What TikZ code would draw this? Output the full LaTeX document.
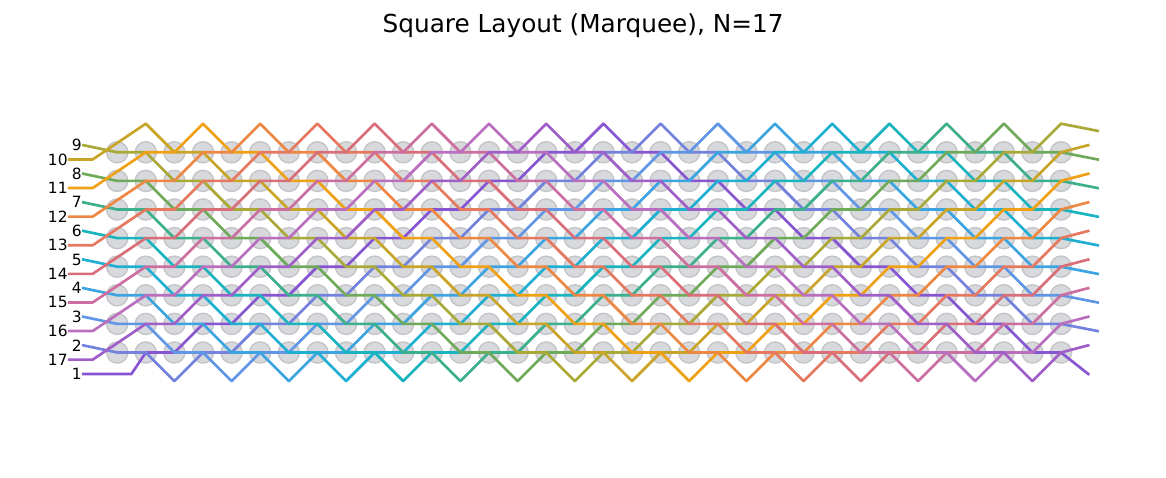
\documentclass[tikz,border=0pt]{standalone}
\usepackage{fontspec}
\setmainfont{DejaVu Sans}
\usepackage{tikz}
\usetikzlibrary{calc}

\definecolor{q1}{HTML}{8755D2}
\definecolor{q2}{HTML}{7382DC}
\definecolor{q3}{HTML}{5F96E6}
\definecolor{q4}{HTML}{3CA5E1}
\definecolor{q5}{HTML}{1EAFD2}
\definecolor{q6}{HTML}{19B4BE}
\definecolor{q7}{HTML}{3CAF8C}
\definecolor{q8}{HTML}{6EAA5A}
\definecolor{q9}{HTML}{A9A938}
\definecolor{q10}{HTML}{C8A528}
\definecolor{q11}{HTML}{F0A014}
\definecolor{q12}{HTML}{EE8741}
\definecolor{q13}{HTML}{E6785F}
\definecolor{q14}{HTML}{DA6E78}
\definecolor{q15}{HTML}{CD6EA0}
\definecolor{q16}{HTML}{B96EBE}
\definecolor{q17}{HTML}{A05FC8}
\definecolor{sitefill}{RGB}{216,217,220}
\definecolor{siteedge}{RGB}{196,197,201}

\begin{document}
\begin{tikzpicture}[x=0.715cm, y=-0.715cm,
    declare function={lanerow(\s)=ifthenelse(mod(\s,34)<17, floor(mod(\s,34)/2), 7-floor((mod(\s,34)-17)/2));},
    site/.style={fill=sitefill, draw=siteedge, line width=1pt},
    lane/.style={line width=1.9pt, line join=round, line cap=rect},
    tag/.style={anchor=east, inner sep=1pt, font=\fontsize{11}{13}\selectfont}]
    \useasboundingbox (-4.098,-5.325) rectangle (36.67,11.353);

    % Titel
    \node[anchor=base, font=\fontsize{17.6}{20}\selectfont] (title) at (16.29,-4.2) {Square Layout (Marquee), N=17};

    % Gitter der Plätze
    \foreach \r in {0,...,7}
        \foreach \c in {0,...,33}
            \path[site] (\c,\r) circle (0.37);

    % Bahnen: Start, Knick, Umlauf, Ende
    \foreach \n/\s/\xs/\ys/\xq/\yq/\xe/\ye in {
        1/16/-1.185/7.75/0.5/7.75/33.95/7.75,
        2/14/-1.185/6.75/0/7/34.28/6.25,
        3/12/-1.185/5.75/0/6/34.28/5.25,
        4/10/-1.185/4.75/0/5/34.28/4.25,
        5/8/-1.185/3.75/0/4/34.28/3.25,
        6/6/-1.185/2.75/0/3/34.28/2.25,
        7/4/-1.185/1.75/0/2/34.28/1.25,
        8/2/-1.185/0.75/0/1/34.28/0.25,
        9/0/-1.185/-0.25/0/0/34.28/-0.75,
        10/32/-1.675/0.25/-0.857/0.25/33.95/-0.25,
        11/30/-1.675/1.25/-0.857/1.25/33.95/0.75,
        12/28/-1.675/2.25/-0.857/2.25/33.95/1.75,
        13/26/-1.675/3.25/-0.857/3.25/33.95/2.75,
        14/24/-1.675/4.25/-0.857/4.25/33.95/3.75,
        15/22/-1.675/5.25/-0.857/5.25/33.95/4.75,
        16/20/-1.675/6.25/-0.857/6.25/33.95/5.75,
        17/18/-1.675/7.25/-0.857/7.25/33.95/6.75}
    {
        \draw[lane, color=q\n] (\xs,\ys) -- (\xq,\yq)
            \foreach \k in {1,...,33} { -- (\k,{lanerow(\s+\k)}) }
            -- (\xe,\ye);
        \node[tag] (l\n) at (\xs,\ys) {\n};
    }
\end{tikzpicture}
\end{document}
